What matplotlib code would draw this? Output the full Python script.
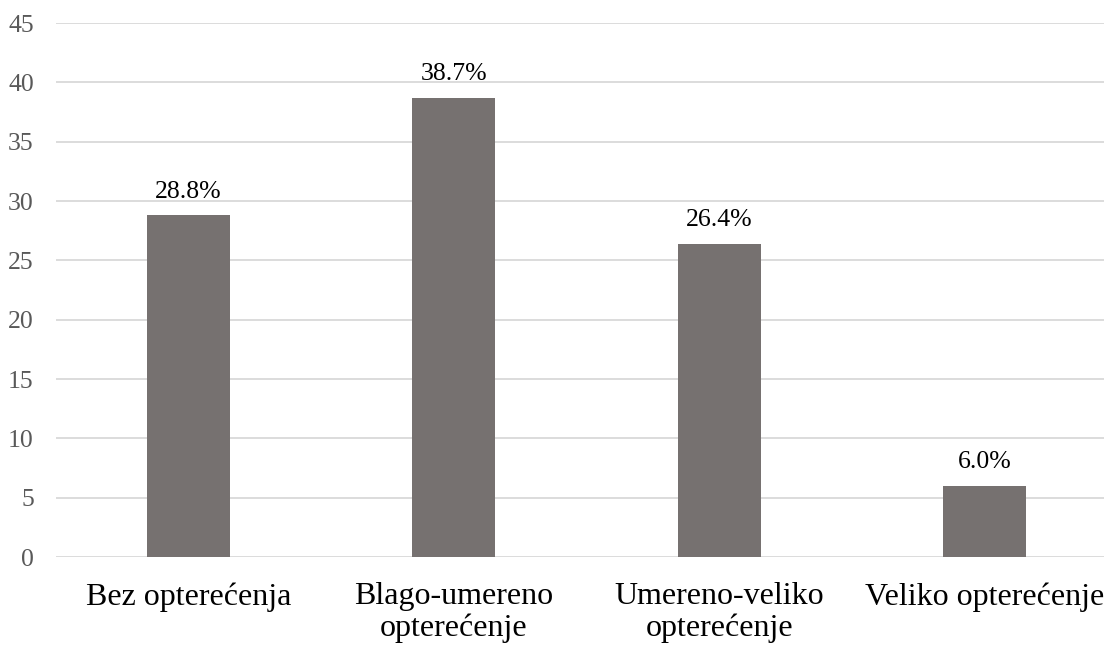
import matplotlib.pyplot as plt
import numpy as np

# Podaci
categories = ["Bez opterećenja", "Blago-umereno\nopterećenje",
              "Umereno-veliko\nopterećenje", "Veliko opterećenje"]
values = [28.8, 38.7, 26.4, 6.0]
y_ticks = [0, 5, 10, 15, 20, 25, 30, 35, 40, 45]

plt.rcParams["font.family"] = ["Liberation Serif", "DejaVu Serif"]

fig = plt.figure(figsize=(11.04, 6.49), dpi=100)
W, H = 1104, 649
# osa izlazi malo desno od slike, kao u originalu
ax = fig.add_axes([56 / W, (H - 557) / H, (1117 - 56) / W, (557 - 23) / H])

x = np.arange(len(categories))
bars = ax.bar(x, values, width=0.313, color="#767170", zorder=3)

for b, v in zip(bars, values):
    ax.annotate(f"{v:.1f}%", (b.get_x() + b.get_width() / 2, v),
                xytext=(0, 9), textcoords="offset points",
                ha="center", va="bottom", fontsize=18.5, color="#000000")

ax.set_xlim(-0.5, len(categories) - 0.5)
ax.set_ylim(0, 45)
ax.set_yticks(y_ticks)
ax.set_xticks(x)
ax.set_xticklabels(categories, fontsize=23, linespacing=1.13)
ax.yaxis.grid(True, color="#d9d9d9", linewidth=1.3, zorder=0)
ax.tick_params(axis="y", length=0, pad=16, labelsize=18.5, labelcolor="#595959")
ax.tick_params(axis="x", length=0, pad=18, colors="#000000")
for s in ax.spines.values():
    s.set_visible(False)

fig.savefig("out.png", dpi=100, facecolor="white")
